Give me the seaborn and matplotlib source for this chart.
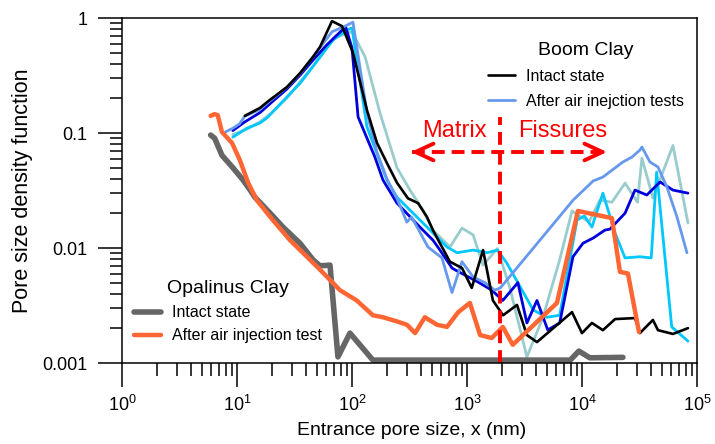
import matplotlib
matplotlib.use("Agg")
import matplotlib.pyplot as plt
import matplotlib.ticker as mticker
import seaborn as sns

# Opalinus Clay
opa_intact_x = [5.9, 6.4, 7.4, 9.2, 11.3, 13.0, 14.3, 19.4, 25.1, 35.3, 45.8, 52.7, 64.4, 75.5, 96, 152,
                500, 2000, 7900, 9400, 11700, 22700]
opa_intact_y = [0.096, 0.090, 0.064, 0.050, 0.039, 0.032, 0.0277, 0.0201, 0.0152, 0.0110, 0.0079, 0.0070,
                0.0071, 0.00113, 0.00182, 0.00106, 0.00106, 0.00106, 0.00106, 0.00127, 0.00111, 0.00112]
opa_after_x = [5.9, 6.4, 6.8, 7.4, 9.05, 10.6, 12.5, 14.9, 20.5, 28.9, 40.6, 56, 78.6, 110, 152, 186, 246,
               301, 354, 430, 550, 670, 840, 1060, 1300, 1640, 2050, 2500, 6060, 9220, 18200, 21400, 25100, 31300]
opa_after_y = [0.141, 0.146, 0.143, 0.102, 0.082, 0.058, 0.037, 0.026, 0.0175, 0.0117, 0.0084, 0.0061, 0.0043,
               0.0035, 0.0026, 0.0025, 0.0023, 0.00215, 0.00182, 0.0025, 0.00215, 0.00206, 0.00277, 0.00333,
               0.00175, 0.00165, 0.00206, 0.00144, 0.00333, 0.021, 0.0182, 0.0062, 0.0060, 0.00186]

# Boom Clay, intact
boom_intact_x = [11.7, 15.8, 19.3, 27.2, 35.5, 45.8, 52.7, 67, 81.9, 102, 135, 165, 201, 246, 307, 375, 449,
                 506, 582, 711, 905, 1100, 1380, 1680, 2060, 2720, 3320, 4060, 8190, 10000, 12200, 15200, 19400,
                 28900, 31900, 41400, 45800, 61800, 83500]
boom_intact_y = [0.141, 0.165, 0.194, 0.251, 0.333, 0.458, 0.56, 0.94, 0.85, 0.50, 0.158, 0.082, 0.055, 0.037,
                 0.027, 0.0246, 0.0186, 0.0143, 0.011, 0.0076, 0.0067, 0.0045, 0.0096, 0.0035, 0.0026, 0.0032,
                 0.00175, 0.00152, 0.00277, 0.00182, 0.00223, 0.00193, 0.00241, 0.00246, 0.00182, 0.00237,
                 0.00193, 0.00179, 0.00201]

# Boom Clay, after air injection tests (four samples)
boom_a_x = [7.9, 9.2, 10.5, 11.7, 15.8, 19.3, 27.2, 35.5, 45.8, 67, 85, 102, 135, 165, 201, 246, 300, 330, 458,
            606, 741, 905, 1130, 1430, 1750, 1950, 8350, 12500, 15200, 22700, 27200, 31900, 33200, 39000, 45800,
            54800, 67000, 81800]
boom_a_y = [0.102, 0.11, 0.12, 0.14, 0.16, 0.19, 0.25, 0.33, 0.46, 0.76, 0.84, 0.92, 0.15, 0.068, 0.04, 0.027,
            0.0168, 0.0186, 0.0102, 0.0082, 0.0041, 0.0076, 0.0056, 0.0050, 0.0043, 0.0045, 0.026, 0.0383, 0.0414,
            0.056, 0.0618, 0.0711, 0.0755, 0.056, 0.0506, 0.0339, 0.0186, 0.0091]
boom_b_x = [9.2, 11.7, 15.8, 20, 27, 35.5, 45.8, 60, 88, 100, 113, 158, 186, 246, 390, 506, 582, 741, 800, 1230,
            1640, 2050, 2770, 3320, 4060, 5040, 6400, 8350, 10200, 12500, 15800, 17500, 23700, 28900, 36600,
            47800, 61800, 83500]
boom_b_y = [0.105, 0.125, 0.15, 0.185, 0.24, 0.32, 0.43, 0.58, 0.84, 0.55, 0.138, 0.062, 0.039, 0.0246, 0.0152,
            0.0117, 0.0096, 0.0067, 0.0064, 0.0051, 0.0043, 0.0035, 0.0050, 0.00223, 0.0035, 0.00194, 0.00223,
            0.0084, 0.011, 0.0122, 0.0143, 0.0146, 0.0201, 0.0319, 0.0289, 0.0375, 0.0319, 0.030]
boom_c_x = [9.2, 12.2, 15.8, 18.2, 35.5, 68.5, 90.5, 100, 135, 201, 246, 340, 478, 670, 820, 1130, 1500, 1840,
            2220, 2900, 3760, 4930, 6400, 9050, 10500, 12200, 15200, 19400, 23700, 31900, 40000, 44600, 60300,
            83500]
boom_c_y = [0.092, 0.11, 0.122, 0.135, 0.272, 0.644, 0.787, 0.82, 0.113, 0.039, 0.0277, 0.0201, 0.0143, 0.0102,
            0.0091, 0.0096, 0.0091, 0.0096, 0.0074, 0.0046, 0.0029, 0.0025, 0.0026, 0.0175, 0.019, 0.0152, 0.030,
            0.0135, 0.0082, 0.0084, 0.0082, 0.0458, 0.00206, 0.00155]
boom_d_x = [9.2, 12.2, 15.8, 20, 27, 35.5, 45.8, 68.5, 90, 100, 130, 175, 246, 320, 415, 506, 711, 905, 1130,
            1380, 1840, 2360, 3320, 4580, 6400, 8190, 11500, 14300, 18200, 23700, 30400, 33200, 41400, 61800, 83500]
boom_d_y = [0.097, 0.108, 0.125, 0.15, 0.2, 0.28, 0.38, 0.66, 0.74, 0.76, 0.46, 0.15, 0.05, 0.0318, 0.0214,
            0.0143, 0.0102, 0.0149, 0.013, 0.0071, 0.0099, 0.0045, 0.00113, 0.0025, 0.0079, 0.021, 0.0168, 0.0261,
            0.025, 0.0367, 0.025, 0.0606, 0.0272, 0.078, 0.0165]

sns.set_style("ticks")
plt.rcParams["font.family"] = ["Liberation Sans", "DejaVu Sans"]
plt.rcParams["mathtext.fontset"] = "custom"
plt.rcParams["mathtext.rm"] = "Liberation Sans"
plt.rcParams["text.color"] = "black"
plt.rcParams["axes.labelcolor"] = "black"
plt.rcParams["xtick.color"] = "black"
plt.rcParams["ytick.color"] = "black"

fig = plt.figure(figsize=(7.15, 4.44), dpi=100)
ax = fig.add_axes([0.1706, 0.1824, 0.8042, 0.7770])

kw = dict(estimator=None, sort=False, ax=ax)
sns.lineplot(x=boom_d_x, y=boom_d_y, color="#99CCCC", linewidth=2.0, **kw)
sns.lineplot(x=boom_c_x, y=boom_c_y, color="#00C8FF", linewidth=2.0, **kw)
sns.lineplot(x=boom_b_x, y=boom_b_y, color="#0000DD", linewidth=2.0, **kw)
sns.lineplot(x=boom_a_x, y=boom_a_y, color="#6699EE", linewidth=2.0, **kw)
sns.lineplot(x=boom_intact_x, y=boom_intact_y, color="black", linewidth=1.9, **kw)
sns.lineplot(x=opa_intact_x, y=opa_intact_y, color="#666666", linewidth=4.0, **kw)
sns.lineplot(x=opa_after_x, y=opa_after_y, color="#FF6633", linewidth=3.2, **kw)
lines = ax.get_lines()

ax.set_xscale("log")
ax.set_yscale("log")
ax.set_xlim(1, 1e5)
ax.set_ylim(1e-3, 1)

# matrix / fissures markers
red = "#FF0000"
ax.plot([1950, 1950], [1e-3, 0.138], color=red, lw=2.8, dashes=(3.3, 1.8))
ax.plot([330, 16000], [0.0684, 0.0684], color=red, lw=2.8, dashes=(3.3, 1.8))
ah = dict(arrowstyle="->,head_length=1.3,head_width=0.6", color=red, lw=2.8)
ax.annotate("", xy=(307, 0.0684), xytext=(420, 0.0684), arrowprops=ah)
ax.annotate("", xy=(17500, 0.0684), xytext=(12500, 0.0684), arrowprops=ah)
ax.text(779, 0.0923, "Matrix", color=red, fontsize=17, ha="center", va="baseline")
ax.text(6770, 0.0923, "Fissures", color=red, fontsize=17, ha="center", va="baseline")

# ticks
ax.yaxis.set_major_locator(mticker.FixedLocator([0.001, 0.01, 0.1, 1]))
ax.yaxis.set_major_formatter(mticker.FixedFormatter(["0.001", "0.01", "0.1", "1"]))
ax.yaxis.set_minor_locator(mticker.LogLocator(base=10, subs=range(2, 10), numticks=20))
ax.yaxis.set_minor_formatter(mticker.NullFormatter())
ax.xaxis.set_major_locator(mticker.LogLocator(base=10, numticks=10))
ax.xaxis.set_minor_locator(mticker.LogLocator(base=10, subs=range(2, 10), numticks=20))
ax.xaxis.set_minor_formatter(mticker.NullFormatter())
ax.tick_params(which="major", direction="out", length=17, width=1.1, labelsize=13, pad=6, color="black")
ax.tick_params(which="minor", direction="out", length=9, width=1.1, color="black")
ax.tick_params(axis="y", which="major", pad=8)
for s in ax.spines.values():
    s.set_linewidth(1.1)
    s.set_color("black")

ax.set_xlabel("Entrance pore size, x (nm)", fontsize=14)
ax.set_ylabel("Pore size density function", fontsize=15.5)
ax.xaxis.set_label_coords(0.503, -0.17)
ax.yaxis.set_label_coords(-0.155, 0.5)

leg1 = ax.legend(handles=[lines[4], lines[3]], labels=["Intact state", "After air inejction tests"],
                 title="Boom Clay", loc="upper left", bbox_to_anchor=(0.6365, 0.930), frameon=False,
                 fontsize=11.5, title_fontsize=14, handlelength=1.7, handletextpad=0.7, labelspacing=0.62,
                 borderpad=0, borderaxespad=0)
ax.add_artist(leg1)
ax.legend(handles=[lines[5], lines[6]], labels=["Intact state", "After air injection test"],
          title="Opalinus Clay", loc="upper left", bbox_to_anchor=(0.0209, 0.240), frameon=False,
          fontsize=11.5, title_fontsize=14, handlelength=1.7, handletextpad=0.7, labelspacing=0.5,
          borderpad=0, borderaxespad=0)

fig.savefig("out.png", dpi=100)
